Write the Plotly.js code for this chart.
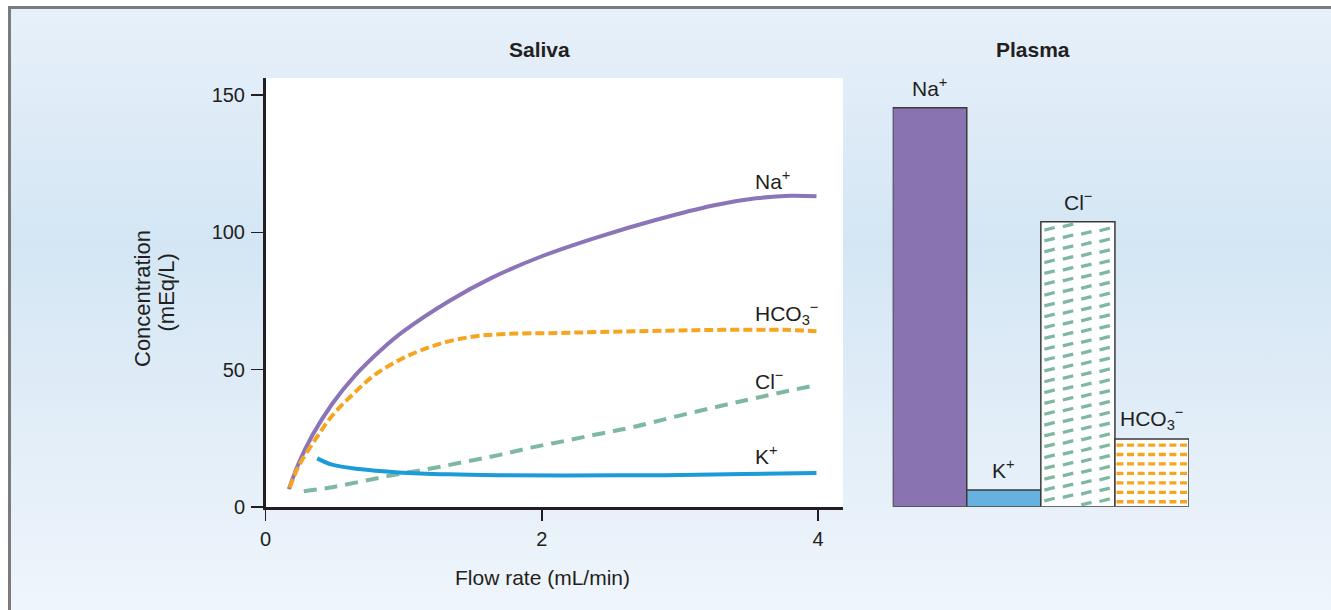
<!DOCTYPE html>
<html>
<head>
<meta charset="utf-8">
<script src="https://cdn.plot.ly/plotly-3.0.1.min.js"></script>
<style>
  html, body { margin:0; padding:0; background:#ffffff; }
  body { width:1331px; height:610px; overflow:hidden; position:relative; }
  #frame {
    position:absolute; left:8px; top:6px; width:1340px; height:620px;
    border-top:3px solid #7b7b7b; border-left:3px solid #7b7b7b;
    background: linear-gradient(180deg, #e7f0fa 0%, #d4e6f4 38%, #e3eef8 70%, #f0f6fc 100%);
  }
  #chart { position:absolute; left:0; top:0; width:1331px; height:610px; }
</style>
</head>
<body>
<div id="frame"></div>
<div id="chart"></div>
<script>
// ---------- data ----------
// Saliva: concentration (mEq/L) vs flow rate (mL/min)
const naFlow   = [0.169, 0.241, 0.338, 0.482, 0.651, 0.844, 1.000, 1.330, 1.640, 2.000, 2.400, 2.830, 3.240, 3.550, 3.800, 3.988];
const naConc   = [6.5, 16.0, 26.0, 37.5, 48.0, 57.5, 64.0, 75.0, 83.5, 91.3, 98.2, 104.6, 109.8, 112.4, 113.3, 113.1];

const hco3Flow = [0.175, 0.241, 0.362, 0.482, 0.627, 0.796, 1.013, 1.254, 1.495, 1.736, 2.049, 2.411, 2.893, 3.300, 3.750, 3.988];
const hco3Conc = [7.0, 15.0, 24.7, 33.2, 40.8, 48.3, 54.6, 59.3, 62.0, 63.0, 63.3, 63.7, 64.2, 64.5, 64.5, 64.0];

const clFlow   = [0.277, 0.482, 0.723, 0.964, 1.206, 1.447, 1.688, 1.929, 2.170, 2.411, 2.652, 2.990, 3.460, 3.986];
const clConc   = [5.7, 7.2, 9.6, 12.0, 14.1, 16.5, 18.9, 21.7, 24.1, 26.6, 29.0, 33.2, 38.7, 44.4];

const kFlow    = [0.374, 0.482, 0.675, 0.964, 1.326, 1.688, 2.170, 2.893, 3.460, 3.988];
const kConc    = [17.7, 15.4, 13.8, 12.6, 11.9, 11.6, 11.5, 11.6, 12.0, 12.4];

// Plasma concentrations (mEq/L)
const plasmaIons   = ['Na<sup>+</sup>', 'K<sup>+</sup>', 'Cl<sup>−</sup>', 'HCO<sub>3</sub><sup>−</sup>'];
const plasmaValues = [145.1, 6.1, 103.6, 24.6];

// Saliva line labels
const salivaLabels = ['Na<sup>+</sup>', 'HCO<sub>3</sub><sup>−</sup>', 'Cl<sup>−</sup>', 'K<sup>+</sup>'];
const salivaLabelY = [118.9, 70.3, 46.2, 19.0];

const xTicks = [0, 2, 4];
const yTicks = [0, 50, 100, 150];

// ---------- style ----------
const INK = '#231f20';
const FONT = '"Liberation Sans", Arial, Helvetica, sans-serif';
const W = 1331, H = 610;
const C_NA = '#8b74b8', C_HCO3 = '#f6a521', C_CL = '#7fb8a0', C_K = '#1b9bd7';
const BAR_FILL = ['#8a73b1', '#67b1e0', '#ffffff', '#ffffff'];

const xDom  = [265.5 / W, 843 / W];
const yDom  = [(H - 507) / H, (H - 78) / H];
const yRange = [0, 156.2];
const x2Dom = [892.7 / W, 1189 / W];
const y2Dom = [(H - 506.7) / H, (H - 78) / H];
const y2Range = [0, 155.9];
const x2Range = [-0.5, 3.5];

// pixels per data unit on the plasma subplot (used for pattern decoration)
const PXX = (x2Dom[1] - x2Dom[0]) * W / (x2Range[1] - x2Range[0]);
const PXY = (y2Dom[1] - y2Dom[0]) * H / (y2Range[1] - y2Range[0]);

// Cl- bar pattern: columns of short slanted dashes
function clPattern(i, v) {
  const xs = [], ys = [];
  const left = i - 0.5;
  const colOff = [8.7, 27.2, 45.5, 63.8];
  const half = 5.2 / PXX, rise = 1.3 / PXY;
  const rowStep = 10.83 / PXY, stagger = 3.4 / PXY;
  colOff.forEach((o, c) => {
    const xc = left + o / PXX;
    let y = v - 7 / PXY + c * stagger;
    while (y + rise > v - 2 / PXY) y -= rowStep;
    for (; y - rise > 1.5 / PXY; y -= rowStep) {
      xs.push(xc - half, xc + half, null);
      ys.push(y - rise, y + rise, null);
    }
  });
  return {xs, ys};
}
// HCO3- bar pattern: rows of horizontal dashes
function hco3Pattern(i, v) {
  const xs = [], ys = [];
  const left = i - 0.5 + 1.5 / PXX, right = i + 0.5 - 1.5 / PXX;
  for (let y = v - 6 / PXY; y > 2 / PXY; y -= 9.45 / PXY) {
    xs.push(left, right, null);
    ys.push(y, y, null);
  }
  return {xs, ys};
}

const clP = clPattern(2, plasmaValues[2]);
const hcP = hco3Pattern(3, plasmaValues[3]);

const data = [
  {x: naFlow, y: naConc, type: 'scatter', mode: 'lines', name: 'Na+',
   line: {color: C_NA, width: 4, shape: 'spline', smoothing: 1}, hoverinfo: 'skip'},
  {x: hco3Flow, y: hco3Conc, type: 'scatter', mode: 'lines', name: 'HCO3-',
   line: {color: C_HCO3, width: 4, shape: 'spline', smoothing: 1, dash: '9px,4px'}, hoverinfo: 'skip'},
  {x: clFlow, y: clConc, type: 'scatter', mode: 'lines', name: 'Cl-',
   line: {color: C_CL, width: 4, shape: 'spline', smoothing: 1, dash: '13px,8px'}, hoverinfo: 'skip'},
  {x: kFlow, y: kConc, type: 'scatter', mode: 'lines', name: 'K+',
   line: {color: C_K, width: 4, shape: 'spline', smoothing: 1}, hoverinfo: 'skip'},
  {x: [0, 1, 2, 3], y: plasmaValues, type: 'bar', xaxis: 'x2', yaxis: 'y2', width: 1,
   marker: {color: BAR_FILL, line: {color: '#3a3a3a', width: 1.5}}, hoverinfo: 'skip'},
  {x: clP.xs, y: clP.ys, type: 'scatter', mode: 'lines', xaxis: 'x2', yaxis: 'y2',
   line: {color: C_CL, width: 3.3}, hoverinfo: 'skip', connectgaps: false},
  {x: hcP.xs, y: hcP.ys, type: 'scatter', mode: 'lines', xaxis: 'x2', yaxis: 'y2',
   line: {color: C_HCO3, width: 3.3, dash: '7px,3.6px'}, hoverinfo: 'skip', connectgaps: false}
];

const annotations = [];
salivaLabels.forEach((t, k) => annotations.push({
  text: t, x: 3.53, y: salivaLabelY[k], xref: 'x', yref: 'y', xanchor: 'left', yanchor: 'middle',
  showarrow: false, font: {size: 21, color: INK}
}));
plasmaIons.forEach((t, k) => annotations.push({
  text: t, x: k, y: plasmaValues[k], xref: 'x2', yref: 'y2', xanchor: 'center', yanchor: 'middle',
  yshift: 20.5, showarrow: false, font: {size: 21, color: INK}
}));
annotations.push(
  {text: '<b>Saliva</b>', x: 539.5 / W, y: 1 - 49.5 / H, xref: 'paper', yref: 'paper',
   xanchor: 'center', yanchor: 'middle', showarrow: false, font: {size: 21, color: INK}},
  {text: '<b>Plasma</b>', x: 1032.5 / W, y: 1 - 49.5 / H, xref: 'paper', yref: 'paper',
   xanchor: 'center', yanchor: 'middle', showarrow: false, font: {size: 21, color: INK}},
  {text: 'Flow rate (mL/min)', x: 542 / W, y: 1 - 577 / H, xref: 'paper', yref: 'paper',
   xanchor: 'center', yanchor: 'middle', showarrow: false, font: {size: 21, color: INK}},
  {text: 'Concentration', x: 142 / W, y: 1 - 299 / H, xref: 'paper', yref: 'paper', textangle: -90,
   xanchor: 'center', yanchor: 'middle', showarrow: false, font: {size: 22, color: INK}},
  {text: '(mEq/L)', x: 165.5 / W, y: 1 - 293 / H, xref: 'paper', yref: 'paper', textangle: -90,
   xanchor: 'center', yanchor: 'middle', showarrow: false, font: {size: 22, color: INK}}
);

const layout = {
  width: W, height: H,
  margin: {l: 0, r: 0, t: 0, b: 0},
  paper_bgcolor: 'rgba(0,0,0,0)', plot_bgcolor: 'rgba(0,0,0,0)',
  font: {family: FONT, color: INK, size: 20},
  showlegend: false,
  xaxis: {domain: xDom, range: [0, 4.18], tickmode: 'array', tickvals: xTicks, ticktext: xTicks.map(String),
          ticks: 'outside', ticklen: 11, tickwidth: 1.5, tickcolor: INK, ticklabelstandoff: 1,
          showline: true, linewidth: 3, linecolor: INK, showgrid: false, zeroline: false,
          tickfont: {size: 20, color: INK}, anchor: 'y', fixedrange: true},
  yaxis: {domain: yDom, range: yRange, tickmode: 'array', tickvals: yTicks, ticktext: yTicks.map(String),
          ticks: 'outside', ticklen: 12, tickwidth: 1.5, tickcolor: INK, ticklabelstandoff: 2,
          showline: true, linewidth: 2.5, linecolor: INK, showgrid: false, zeroline: false,
          tickfont: {size: 20, color: INK}, anchor: 'x', fixedrange: true},
  xaxis2: {domain: x2Dom, range: x2Range, visible: false, anchor: 'y2', fixedrange: true},
  yaxis2: {domain: y2Dom, range: y2Range, visible: false, anchor: 'x2', fixedrange: true},
  shapes: [{type: 'rect', xref: 'x domain', yref: 'y domain', x0: 0, x1: 1, y0: 0, y1: 1,
            fillcolor: '#ffffff', line: {width: 0}, layer: 'below'}],
  annotations: annotations
};

Plotly.newPlot('chart', data, layout, {staticPlot: true, displayModeBar: false});
</script>
</body>
</html>
